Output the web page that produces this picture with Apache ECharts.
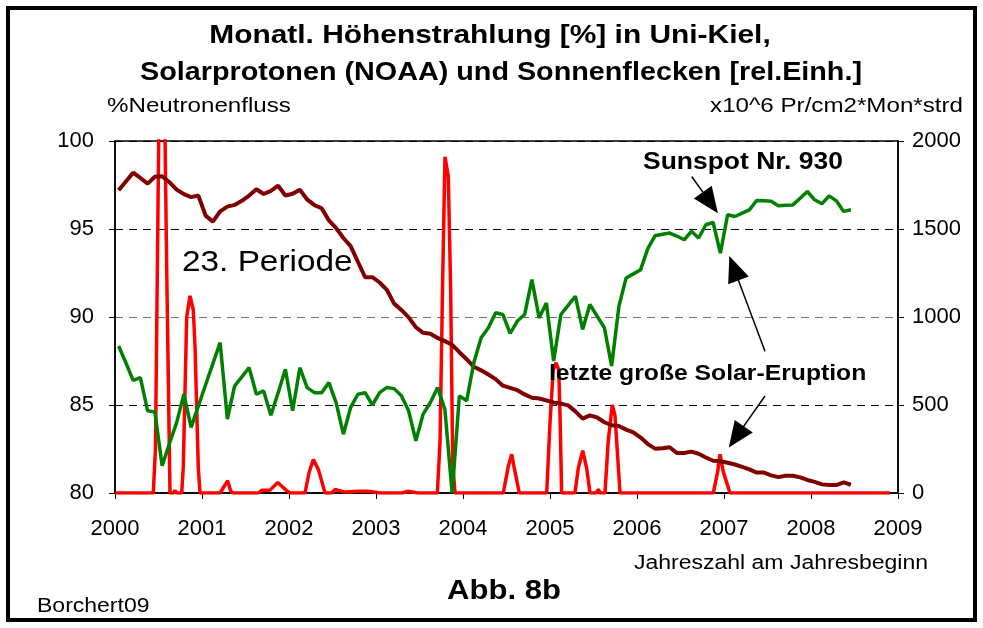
<!DOCTYPE html>
<html>
<head>
<meta charset="utf-8">
<title>Höhenstrahlung Kiel</title>
<script src="https://cdn.jsdelivr.net/npm/echarts@6/dist/echarts.min.js"></script>
<style>
  html, body { margin: 0; padding: 0; background: #fff; }
  #chart { width: 983px; height: 628px; }
</style>
</head>
<body>
<div id="chart"></div>
<script>
// Monatswerte ab Januar 2000 (Punkt jeweils Monatsmitte)
var startYear = 2000;
var neutron = [97.2, 97.7, 98.2, 97.9, 97.58, 97.97, 98.0, 97.66, 97.24, 96.98,
  96.81, 96.9, 95.76, 95.42, 96.0, 96.27, 96.37, 96.6, 96.9, 97.26,
  96.99, 97.17, 97.46, 96.9, 97.0, 97.23, 96.68, 96.36, 96.18, 95.49,
  95.05, 94.49, 94.03, 93.14, 92.26, 92.26, 91.96, 91.54, 90.76, 90.4,
  89.98, 89.42, 89.1, 89.05, 88.81, 88.63, 88.42, 88.0, 87.6, 87.17,
  86.97, 86.73, 86.47, 86.1, 85.97, 85.84, 85.6, 85.41, 85.37, 85.26,
  85.14, 85.08, 84.98, 84.64, 84.23, 84.41, 84.29, 84.02, 83.85, 83.81,
  83.6, 83.45, 83.15, 82.78, 82.52, 82.54, 82.6, 82.27, 82.27, 82.35,
  82.23, 82.02, 81.83, 81.8, 81.72, 81.62, 81.48, 81.34, 81.16, 81.16,
  81.0, 80.9, 80.98, 80.98, 80.89, 80.74, 80.63, 80.49, 80.45, 80.45,
  80.6, 80.47];
var sunspots = [88.35, 87.4, 86.4, 86.56, 84.67, 84.6, 81.55, 82.8, 84.0, 85.61,
  83.73, 84.95, 86.15, 87.35, 88.54, 84.2, 86.08, 86.6, 87.12, 85.61,
  85.8, 84.42, 85.7, 87.03, 84.67, 87.12, 85.99, 85.7, 85.7, 86.27,
  85.13, 83.34, 84.86, 85.61, 85.7, 85.0, 85.7, 86.0, 85.93, 85.52,
  84.67, 82.97, 84.48, 85.14, 85.99, 84.76, 80.0, 85.52, 85.24, 87.41,
  88.82, 89.39, 90.24, 90.14, 89.07, 89.77, 90.14, 92.12, 89.95, 90.8,
  87.5, 90.14, 90.66, 91.18, 89.29, 90.71, 90.05, 89.39, 87.22, 90.6,
  92.22, 92.45, 92.69, 93.9, 94.62, 94.7, 94.77, 94.6, 94.39, 94.87,
  94.49, 95.24, 95.37, 93.63, 95.81, 95.71, 95.9, 96.09, 96.62, 96.6,
  96.57, 96.32, 96.35, 96.37, 96.75, 97.13, 96.66, 96.43, 96.88, 96.6,
  96.0, 96.09];
// Solarprotonen (NOAA), unregelmaessige Zeitpunkte
var protonYears = [2000.00, 2000.44, 2000.465, 2000.515, 2000.56, 2000.595, 2000.632, 2000.67, 2000.69, 2000.71,
  2000.767, 2000.785, 2000.824, 2000.862, 2000.90, 2000.92, 2000.957, 2000.977,
  2001.207, 2001.27, 2001.295, 2001.33, 2001.356,
  2001.65, 2001.686, 2001.78, 2001.87, 2001.97, 2002.01,
  2002.184, 2002.23, 2002.28, 2002.34, 2002.414,
  2002.49, 2002.53, 2002.64, 2002.80, 2002.91, 2003.05, 2003.30, 2003.37, 2003.48,
  2003.705, 2003.736, 2003.767, 2003.793, 2003.805, 2003.831, 2003.858, 2003.882, 2003.908,
  2004.463, 2004.52, 2004.56, 2004.586, 2004.647,
  2004.962, 2005.00, 2005.037, 2005.07, 2005.10, 2005.115, 2005.134,
  2005.287, 2005.325, 2005.376, 2005.422, 2005.46,
  2005.53, 2005.555, 2005.58,
  2005.632, 2005.67, 2005.716, 2005.747, 2005.805,
  2006.877, 2006.927, 2006.954, 2006.992, 2007.069, 2008.908];
var protonValues = [0, 0, 250, 2600, 2600, 1250, 0, 0, 15, 0,
  0, 150, 1000, 1120, 1040, 830, 150, 0,
  0, 50, 70, 10, 0,
  0, 15, 15, 60, 15, 0,
  0, 115, 190, 130, 0,
  0, 20, 5, 10, 10, 0, 0, 10, 0,
  0, 290, 1230, 1910, 1920, 1800, 1160, 170, 0,
  0, 150, 220, 150, 0,
  0, 400, 700, 740, 700, 450, 0,
  0, 140, 240, 140, 0,
  0, 20, 0,
  0, 300, 500, 440, 0,
  0, 120, 220, 120, 0, 0];
var yearTicks = [2000, 2009];
var leftTicks = [80, 100, 5];
var rightTicks = [0, 2000, 500];
// Pfeile: [von, nach] in Jahr / Prozent
var arrows = [
  [[2006.629, 97.98], [2006.843, 96.50]],
  [[2007.471, 88.06], [2007.114, 92.77]],
  [[2007.471, 85.51], [2007.141, 83.19]]
];

var FONT = '"Liberation Sans", Arial, sans-serif';

function monthly(arr) {
  var out = [];
  for (var i = 0; i < arr.length; i++) {
    out.push([startYear + (i + 0.5) / 12, arr[i]]);
  }
  return out;
}
var protonData = [];
for (var k = 0; k < protonYears.length; k++) {
  protonData.push([protonYears[k], protonValues[k]]);
}
var arrowLines = arrows.map(function (a) {
  return [
    { coord: a[0], symbol: 'none', symbolSize: 1 },
    { coord: a[1], symbol: 'triangle', symbolSize: [22, 26] }
  ];
});

function txt(x, y, s, size, bold, align) {
  return {
    type: 'text', x: x, y: y, scaleX: 1.15, z: 100,
    style: {
      text: s, fill: '#000', fontFamily: FONT, fontSize: size,
      fontWeight: bold ? 'bold' : 'normal',
      textAlign: align || 'left', textVerticalAlign: 'middle'
    }
  };
}
function plain(v) { return String(v); }

var myChart = echarts.init(document.getElementById('chart'));
var option = {
  backgroundColor: '#fff',
  animation: false,
  grid: {
    left: 115, top: 141, right: 85, bottom: 135,
    show: true, borderColor: '#000', borderWidth: 1.5, backgroundColor: 'transparent'
  },
  xAxis: {
    type: 'value', min: yearTicks[0], max: yearTicks[1], interval: 1,
    axisLine: { show: true, lineStyle: { color: '#000', width: 1.5 } },
    axisTick: { show: true, length: 6, lineStyle: { color: '#000' } },
    axisLabel: { color: '#000', fontFamily: FONT, fontSize: 22, margin: 25, formatter: plain },
    splitLine: { show: false }
  },
  yAxis: [
    {
      type: 'value', min: leftTicks[0], max: leftTicks[1], interval: leftTicks[2],
      axisLine: { show: true, lineStyle: { color: '#000', width: 1.5 } },
      axisTick: { show: true, length: 6, lineStyle: { color: '#000' } },
      axisLabel: { color: '#000', fontFamily: FONT, fontSize: 22, margin: 21, formatter: plain },
      splitLine: {
        show: true,
        lineStyle: { color: ['#000', '#000', '#707070', '#000', '#000'], type: [8, 6], width: 1 }
      }
    },
    {
      type: 'value', min: rightTicks[0], max: rightTicks[1], interval: rightTicks[2],
      position: 'right',
      axisLine: { show: true, lineStyle: { color: '#000', width: 1.5 } },
      axisTick: { show: true, length: 6, lineStyle: { color: '#000' } },
      axisLabel: { color: '#000', fontFamily: FONT, fontSize: 22, margin: 14, formatter: plain },
      splitLine: { show: false }
    }
  ],
  series: [
    {
      name: 'Solarprotonen', type: 'line', yAxisIndex: 1, data: protonData,
      showSymbol: false, clip: true, z: 2,
      lineStyle: { color: '#ff0000', width: 3.5 }
    },
    {
      name: 'Neutronenfluss', type: 'line', yAxisIndex: 0, data: monthly(neutron),
      showSymbol: false, clip: true, z: 3,
      lineStyle: { color: '#800000', width: 4 }
    },
    {
      name: 'Sonnenflecken', type: 'line', yAxisIndex: 0, data: monthly(sunspots),
      showSymbol: false, clip: true, z: 4,
      lineStyle: { color: '#008000', width: 3.5 },
      markLine: {
        silent: true, animation: false,
        symbol: ['none', 'triangle'], symbolSize: 22,
        label: { show: false },
        lineStyle: { color: '#000', width: 1.5, type: 'solid' },
        itemStyle: { color: '#000' },
        emphasis: { disabled: true },
        data: arrowLines
      }
    }
  ],
  graphic: [
    { type: 'rect', z: 100, shape: { x: 8, y: 8, width: 967, height: 612 },
      style: { fill: 'none', stroke: '#000', lineWidth: 4 } },
    txt(490, 36, 'Monatl. Höhenstrahlung [%] in Uni-Kiel,', 26, true, 'center'),
    txt(501, 73, 'Solarprotonen (NOAA) und Sonnenflecken [rel.Einh.]', 25, true, 'center'),
    txt(107, 106, '%Neutronenfluss', 21, false, 'left'),
    txt(963, 106, 'x10^6 Pr/cm2*Mon*strd', 21, false, 'right'),
    txt(182, 263, '23. Periode', 29, false, 'left'),
    txt(643, 163, 'Sunspot Nr. 930', 23, true, 'left'),
    txt(549, 374, 'letzte große Solar-Eruption', 21.5, true, 'left'),
    txt(928, 563, 'Jahreszahl am Jahresbeginn', 20, false, 'right'),
    txt(504, 592, 'Abb. 8b', 27, true, 'center'),
    txt(37, 606, 'Borchert09', 20, false, 'left')
  ]
};
myChart.setOption(option);
</script>
</body>
</html>
